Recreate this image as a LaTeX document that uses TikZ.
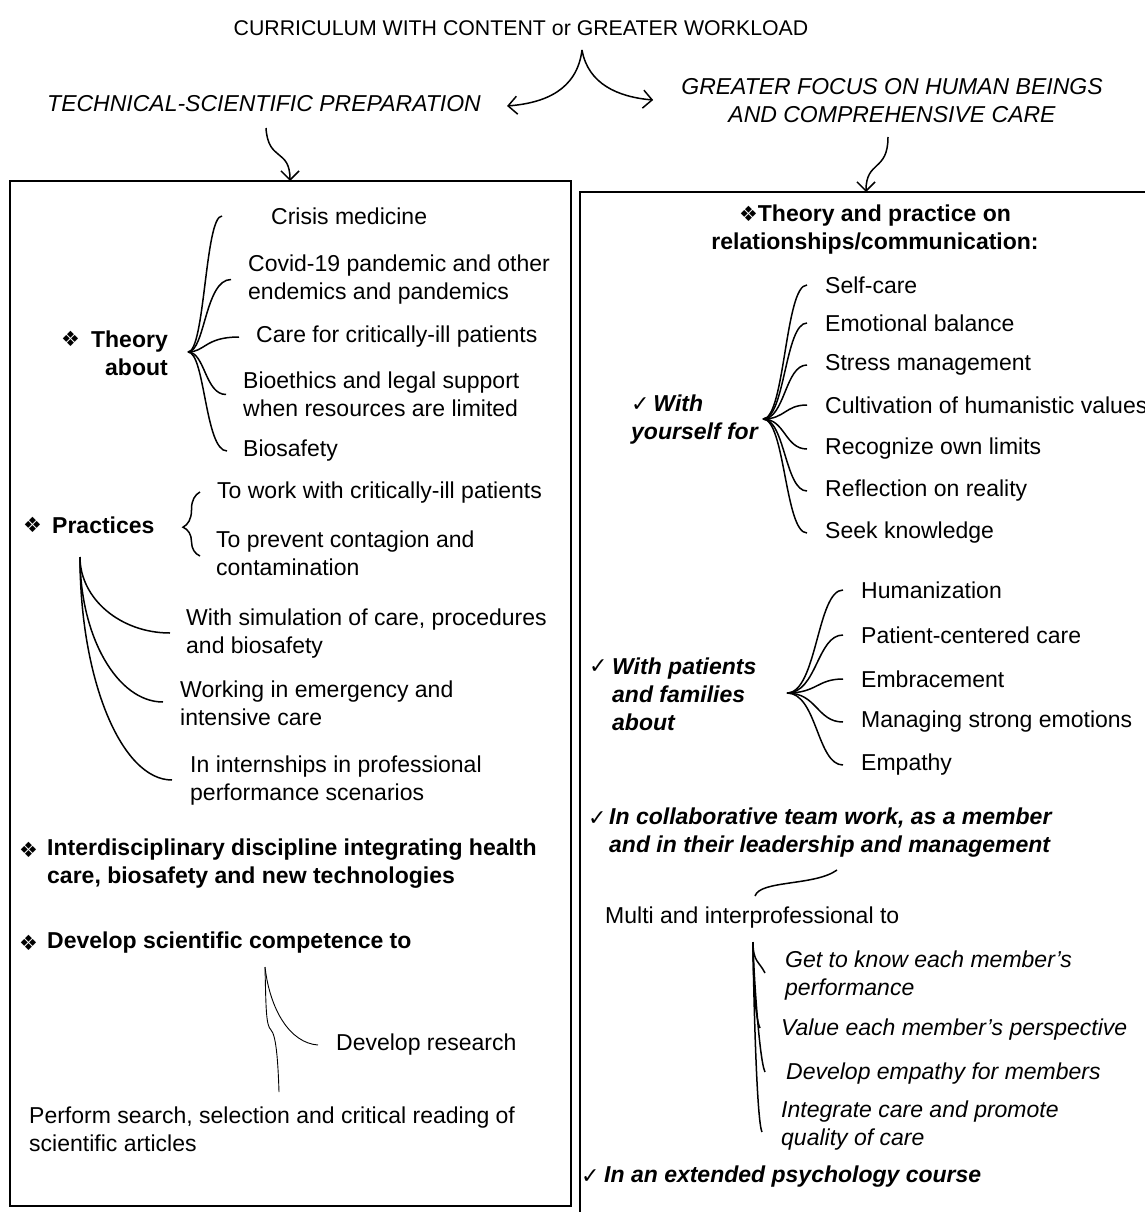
\documentclass[tikz,border=0pt]{standalone}
\usepackage{fontspec}
\setmainfont{Liberation Sans}
\newfontfamily\symfont{DejaVu Sans}
\usetikzlibrary{calc,arrows.meta,decorations.pathreplacing}
\tikzset{>={Straight Barb[length=9pt,width=18pt]}}
\tikzset{
  txt/.style={inner sep=0pt, anchor=west, align=left, font=\fontsize{23}{28}\selectfont},
  hd/.style={txt, font=\fontsize{23}{28}\selectfont\bfseries},
  hdit/.style={txt, font=\fontsize{23}{28}\selectfont\bfseries\itshape},
  itm/.style={txt, font=\fontsize{23}{28}\selectfont\itshape},
  fan/.style={line width=1.5pt},
  thinfan/.style={line width=0.9pt},
  frame/.style={line width=1.6pt}
}
\newcommand{\dia}{{\symfont\fontsize{21}{21}\selectfont ❖}}
\newcommand{\chk}{{\symfont\mdseries\upshape\fontsize{22}{22}\selectfont ✓}}

\begin{document}
\begin{tikzpicture}[x=1pt,y=-1pt]
  \useasboundingbox (0,0) rectangle (1145,1212);

  % help functions
        % brace-like branch from an apex to an end point
  \def\fanto#1#2#3{\draw[fan] (#1) .. controls ($(#1)+(#3,0)$) and ($(#1|-#2)+(#3,0)$) .. (#2);}
        % falling branch that turns right into its end point
  \def\dropto#1#2{\draw[fan] (#1) .. controls ($(#1)!0.55!(#1|-#2)$) and ($(#2)!0.55!(#1|-#2)$) .. (#2);}

  % TITLE
  \node[txt, anchor=center, font=\fontsize{21.3}{26}\selectfont] (title) at (521,28) {CURRICULUM WITH CONTENT or GREATER WORKLOAD};
  \node[itm] (tech) at (47,104) {TECHNICAL-SCIENTIFIC PREPARATION};
  \node[itm, anchor=center, align=center] (human) at (892,101) {GREATER FOCUS ON HUMAN BEINGS\\AND COMPREHENSIVE CARE};
  \coordinate (split) at (582,50);
  \coordinate (techin) at ($(tech.east)+(26,2)$);
  \coordinate (humanin) at ($(human.west)+(-28,-1)$);
  \draw[->, fan] (split) .. controls (577,90) and (545,103) .. (techin);
  \draw[->, fan] (split) .. controls (588,84) and (618,97) .. (humanin);

  % BOXES
  \coordinate (lbox) at (10,181);
  \coordinate (rbox) at (580,192);
  \draw[frame] (lbox) rectangle (571,1206);
  \draw[frame] (580,1225) -- (rbox) -- (1160,192);
  \coordinate (lsrc) at (266,128); \coordinate (ltgt) at (290,181);
  \coordinate (rsrc) at (888,137); \coordinate (rtgt) at (866,192);
  \draw[->, fan] (lsrc) .. controls (268,162) and (290,148) .. (ltgt);
  \draw[->, fan] (rsrc) .. controls (888,172) and (866,160) .. (rtgt);

  % LEFT: theory
  \node[txt] (theorydia) at (61,339) {\dia};
  \node[hd, anchor=east, align=right] (theory) at (168,353) {Theory\\about};
  \coordinate (tha) at (188,352);
  \foreach \nm/\tx/\ty/\ex/\t in {crisis/271/216/222/Crisis medicine,
      covid/248/279.5/231/{Covid-19 pandemic and other\\endemics and pandemics},
      care/256/337/239/Care for critically-ill patients,
      bioeth/243/394.5/226/{Bioethics and legal support\\when resources are limited},
      biosaf/243/451/227/Biosafety}{
    \node[txt] (\nm) at (\tx,\ty) {\t};
    \coordinate (e\nm) at (\ex,\ty);
    \fanto{tha}{e\nm}{17}
  }

  % LEFT: practices
  \node[txt] (pracdia) at (23,525) {\dia};
  \node[hd] (prac) at (52,525) {Practices};
  \node[txt] (towork) at (217,493) {To work with critically-ill patients};
  \node[txt] (prevent) at (216,553.5) {To prevent contagion and\\contamination};
  \coordinate (pbbot) at (200,556); \coordinate (pbtop) at (200,492);
  \draw[fan, decorate, decoration={brace, amplitude=17pt, aspect=0.45}] (pbbot) -- (pbtop);
  \coordinate (pfa) at (80,557);
  \foreach \nm/\tx/\ty/\ex/\ey/\t in {simul/186/633.5/170/633/{With simulation of care, procedures\\and biosafety},
      emerg/180/703/163/702/{Working in emergency and\\intensive care},
      intern/190/781/172/780/{In internships in professional\\performance scenarios}}{
    \node[txt] (\nm) at (\tx,\ty) {\t};
    \coordinate (e\nm) at (\ex,\ey);
    \dropto{pfa}{e\nm}
  }

  % LEFT: discipline and competence
  \node[txt] (interdia) at (19,850) {\dia};
  \node[hd] (interd) at (47,864) {Interdisciplinary discipline integrating health\\care, biosafety and new technologies};
  \node[txt] (devdia) at (19,943) {\dia};
  \node[hd] (devsci) at (47,943) {Develop scientific competence to};
  \node[txt] (devres) at (336,1045) {Develop research};
  \node[txt] (perform) at (29,1129.5) {Perform search, selection and critical reading of\\scientific articles};
  \coordinate (dsa) at (265,967); \coordinate (dsk) at (271,1030); \coordinate (dsb) at (279,1092);
  \coordinate (dsr) at ($(devres.west)+(-18,0)$);
  \draw[thinfan] (dsa) .. controls (266,1010) and (266,1025) .. (dsk) .. controls (276,1035) and (278,1060) .. (dsb);
  \draw[thinfan] (dsa) .. controls (270,1010) and (290,1043) .. (dsr);

  % RIGHT: relationships
  \node[hd, anchor=center, align=center] (relth) at (875,229.5) {\dia Theory and practice on\\relationships/communication:};
  \node[hdit] (withself) at (631,420) {\chk\,With\\yourself for};
  \coordinate (ya) at (763,419);
  \foreach \nm/\ty/\t in {selfc/285/Self-care, emob/323/Emotional balance, stress/365/Stress management,
      cultiv/405/Cultivation of humanistic values, recog/449/Recognize own limits,
      reflec/491/Reflection on reality, seek/533/Seek knowledge}{
    \node[txt] (\nm) at (825,\ty) {\t};
    \coordinate (e\nm) at ($(\nm.west)+(-18,0)$);
    \fanto{ya}{e\nm}{22}
  }

  % RIGHT: patients and families
  \node[txt] (patchk) at (589,667) {\chk};
  \node[hdit] (patients) at (612,694.5) {With patients\\and families\\about};
  \coordinate (pa) at (787,693);
  \foreach \nm/\ty/\t in {human/590/Humanization, pcc/635/Patient-centered care, embr/679/Embracement,
      manag/722/Managing strong emotions, empat/765/Empathy}{
    \node[txt] (\nm) at (861,\ty) {\t};
    \coordinate (e\nm) at ($(\nm.west)+(-18,0)$);
    \fanto{pa}{e\nm}{30}
  }

  % RIGHT: team work
  \node[txt] (colchk) at (588,819) {\chk};
  \node[hdit] (collab) at (609,833) {In collaborative team work, as a member\\and in their leadership and management};
  \node[txt] (multi) at (605,918) {Multi and interprofessional to};
  \coordinate (cs) at (837,870); \coordinate (ce) at (755,896);
  \draw[fan] (cs) .. controls (815,886) and (760,880) .. (ce);
  \coordinate (ta) at (753,942);
  \foreach \nm/\tx/\ty/\ex/\ey/\t in {getk/785/975.5/765/973/{Get to know each member’s\\performance},
      valu/781/1030/760/1028/Value each member’s perspective,
      dempa/786/1074/765/1072/Develop empathy for members,
      integ/781/1126/762/1132/{Integrate care and promote\\quality of care}}{
    \node[itm] (\nm) at (\tx,\ty) {\t};
    \coordinate (e\nm) at (\ex,\ey);
    \draw[fan] (ta) .. controls ($(ta)+(0,20)$) and ($(e\nm)+(-6,-12)$) .. (e\nm);
  }

  % RIGHT: psychology
  \node[txt] (extchk) at (581,1177) {\chk};
  \node[hdit] (extended) at (604,1177) {In an extended psychology course};

\end{tikzpicture}
\end{document}
